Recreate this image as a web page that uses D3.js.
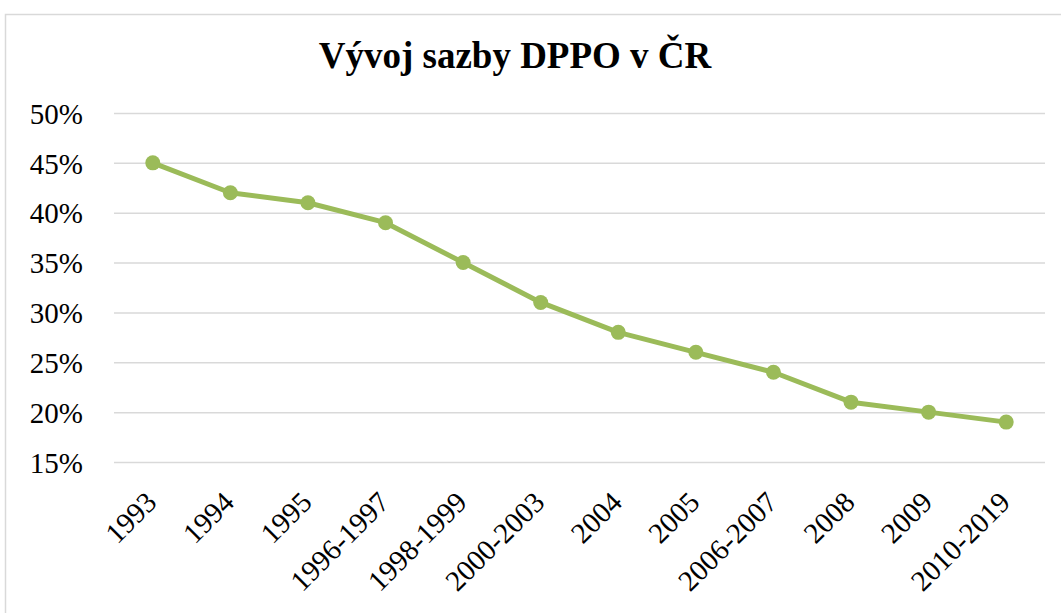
<!doctype html>
<html lang="cs">
<head>
  <meta charset="utf-8">
  <title>Vývoj sazby DPPO v ČR</title>
  <style>
    body { margin: 0; background: #fff; }
    svg { display: block; }
    svg text { font-family: 'Liberation Serif', 'Times New Roman', serif; }
  </style>
</head>
<body>
  <script src="https://cdn.jsdelivr.net/npm/d3@7"></script>
  <script>
    var categories = ['1993', '1994', '1995', '1996-1997', '1998-1999', '2000-2003',
      '2004', '2005', '2006-2007', '2008', '2009', '2010-2019']
    var rates = [45, 42, 41, 39, 35, 31, 28, 26, 24, 21, 20, 19]
    var yTicks = [15, 20, 25, 30, 35, 40, 45, 50]
    var title = 'Vývoj sazby DPPO v ČR'

    var width = 1061
    var height = 613
    var plot = { left: 114, right: 1045, top: 113, bottom: 462 }
    var serif = "'Liberation Serif', 'Times New Roman', serif"

    var svg = d3.select('body').append('svg')
      .attr('width', width)
      .attr('height', height)

    // chart frame
    svg.append('rect')
      .attr('x', 5.5)
      .attr('y', 14.5)
      .attr('width', 1100)
      .attr('height', 700)
      .style('fill', '#fff')
      .style('stroke', '#d9d9d9')
      .style('stroke-width', 1.5)

    svg.append('text')
      .attr('x', 515)
      .attr('y', 68)
      .attr('text-anchor', 'middle')
      .style('font-family', serif)
      .style('font-size', '37px')
      .style('font-weight', 'bold')
      .text(title)

    var x = d3.scalePoint()
      .domain(categories)
      .range([plot.left, plot.right])
      .padding(0.5)

    var y = d3.scaleLinear()
      .domain([15, 50])
      .range([plot.bottom, plot.top])

    var yAxis = d3.axisLeft(y)
      .tickValues(yTicks)
      .tickSize(-(plot.right - plot.left))
      .tickPadding(31)
      .tickFormat(function(d) { return d + '%' })

    var gy = svg.append('g')
      .attr('class', 'y axis')
      .attr('transform', 'translate(' + plot.left + ', 0)')
      .call(yAxis)

    gy.select('.domain').remove()
    gy.selectAll('line')
      .style('stroke', '#d9d9d9')
      .style('stroke-width', 1.5)
    gy.selectAll('text')
      .style('font-family', serif)
      .style('font-size', '29px')
      .style('fill', '#000')
      .attr('dy', '0.35em')

    var xAxis = d3.axisBottom(x)
      .tickSize(0)
      .tickPadding(0)

    var gx = svg.append('g')
      .attr('class', 'x axis')
      .attr('transform', 'translate(0, ' + plot.bottom + ')')
      .call(xAxis)

    gx.select('.domain').remove()
    gx.selectAll('text')
      .style('font-family', serif)
      .style('font-size', '29px')
      .style('fill', '#000')
      .attr('text-anchor', 'end')
      .attr('y', 0)
      .attr('dy', 0)
      .attr('transform', 'translate(5, 42) rotate(-45)')

    var line = d3.line()
      .x(function(d, i) { return x(categories[i]) })
      .y(function(d) { return y(d) })

    svg.append('path')
      .datum(rates)
      .attr('d', line)
      .style('fill', 'none')
      .style('stroke', '#9bbb59')
      .style('stroke-width', 5)
      .style('stroke-linejoin', 'round')

    svg.selectAll('.mark')
      .data(rates)
      .enter().append('circle')
      .attr('class', 'mark')
      .attr('cx', function(d, i) { return x(categories[i]) })
      .attr('cy', function(d) { return y(d) })
      .attr('r', 7.5)
      .style('fill', '#9bbb59')
  </script>
</body>
</html>
